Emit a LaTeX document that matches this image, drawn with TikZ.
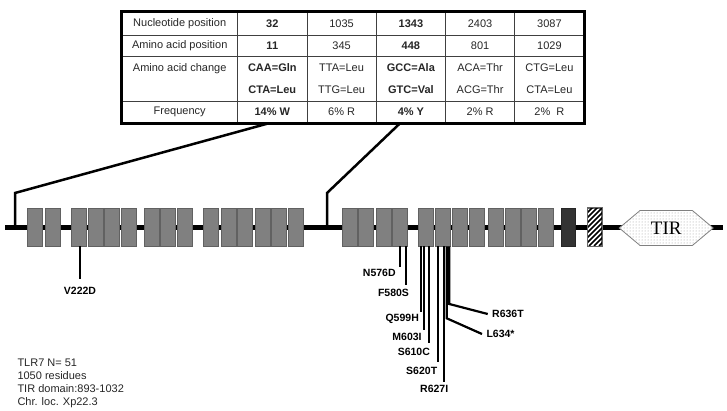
\documentclass[tikz,border=0pt]{standalone}
\usepackage{fontspec}
\setmainfont{Liberation Sans}
\newfontfamily\tirfont{Liberation Serif}
\usetikzlibrary{shapes.symbols,patterns,calc}

\begin{document}
\begin{tikzpicture}
[x=1pt, y=-1pt, line width=1pt,
lrr/.style={rectangle, draw=black!62, fill=black!50, line width=0.8pt, inner sep=0pt, minimum width=15pt, minimum height=38pt},
tmbox/.style={rectangle, draw=black!85, fill=black!80, line width=0.8pt, inner sep=0pt, minimum width=14pt, minimum height=38pt},
jxbox/.style={rectangle, draw=black!60, fill=white, line width=0.8pt, inner sep=0pt, minimum width=14pt, minimum height=38pt},
tirbox/.style={signal, signal to=west and east, signal pointer angle=80, draw=black!50, line width=0.8pt, preaction={fill=white}, pattern=dots, pattern color=black!40, inner sep=0pt, minimum width=94pt, minimum height=35pt, font=\tirfont\fontsize{19}{19}\selectfont},
cell/.style={rectangle, draw=black!75, line width=0.8pt, inner sep=0pt, minimum width=69.3pt, align=center, text=black!85, font=\fontsize{11}{21.7}\selectfont},
head/.style={cell, minimum width=116pt},
row0/.style={minimum height=23pt},
row1/.style={minimum height=21.7pt},
row2/.style={minimum height=44.3pt},
row3/.style={minimum height=22pt},
bracket/.style={line width=2.5pt},
mut/.style={line width=2.2pt},
mlabel/.style={font=\bfseries\fontsize{10.5}{12}\selectfont, inner sep=0pt},
info/.style={align=left, inner sep=0pt, text=black!85, font=\fontsize{11}{13}\selectfont}]

\useasboundingbox (0,0) rectangle (727,411);

% table
\node[head,row0] (t00) at (179.7,23.5) {Nucleotide position};
\node[cell,row0] (t01) at (272.3,23.5) {\bfseries 32};
\node[cell,row0] (t02) at (341.6,23.5) {1035};
\node[cell,row0] (t03) at (410.9,23.5) {\bfseries 1343};
\node[cell,row0] (t04) at (480.1,23.5) {2403};
\node[cell,row0] (t05) at (549.4,23.5) {3087};

\node[head,row1] (t10) at (179.7,45.85) {Amino acid position};
\node[cell,row1] (t11) at (272.3,45.85) {\bfseries 11};
\node[cell,row1] (t12) at (341.6,45.85) {345};
\node[cell,row1] (t13) at (410.9,45.85) {\bfseries 448};
\node[cell,row1] (t14) at (480.1,45.85) {801};
\node[cell,row1] (t15) at (549.4,45.85) {1029};

\node[head,row2] (t20) at (179.7,78.85) {Amino acid change\\~};
\node[cell,row2] (t21) at (272.3,78.85) {\bfseries CAA=Gln\\\bfseries CTA=Leu};
\node[cell,row2] (t22) at (341.6,78.85) {TTA=Leu\\TTG=Leu};
\node[cell,row2] (t23) at (410.9,78.85) {\bfseries GCC=Ala\\\bfseries GTC=Val};
\node[cell,row2] (t24) at (480.1,78.85) {ACA=Thr\\ACG=Thr};
\node[cell,row2] (t25) at (549.4,78.85) {CTG=Leu\\CTA=Leu};

\node[head,row3] (t30) at (179.7,112) {Frequency};
\node[cell,row3] (t31) at (272.3,112) {\bfseries 14\% W};
\node[cell,row3] (t32) at (341.6,112) {6\% R};
\node[cell,row3] (t33) at (410.9,112) {\bfseries 4\% Y};
\node[cell,row3] (t34) at (480.1,112) {2\% R};
\node[cell,row3] (t35) at (549.4,112) {2\%\ \ R};

\draw[line width=3pt] (t00.north west) rectangle (t35.south east);

% backbone
\coordinate (b0) at (5,228);
\coordinate (b1) at (723,228);
\draw[line width=5pt] (b0) -- (b1);

% brackets to the table
\coordinate (kl) at (15,193);
\coordinate (kr) at (327,193);
\draw[bracket] (kl |- b0) -- (kl) -- ([xshift=-4pt]t31.south);
\draw[bracket] (kr |- b0) -- (kr) -- ([xshift=-11pt]t33.south);

% repeats
\node[lrr] (l1) at (35.2,227) {};
\node[lrr] (l2) at (52.5,227) {};
\node[lrr] (l3) at (78.9,227) {};
\node[lrr] (l4) at (95.8,227) {};
\node[lrr] (l5) at (111.5,227) {};
\node[lrr] (l6) at (129.2,227) {};
\node[lrr] (l7) at (151.4,227) {};
\node[lrr] (l8) at (168.2,227) {};
\node[lrr] (l9) at (184.5,227) {};
\node[lrr] (l10) at (210.8,227) {};
\node[lrr] (l11) at (228.5,227) {};
\node[lrr] (l12) at (245.2,227) {};
\node[lrr] (l13) at (262.7,227) {};
\node[lrr] (l14) at (278.5,227) {};
\node[lrr] (l15) at (295.5,227) {};

\node[lrr] (r1) at (349.5,227) {};
\node[lrr] (r2) at (365.5,227) {};
\node[lrr] (r3) at (383.4,227) {};
\node[lrr] (r4) at (399.5,227) {};
\node[lrr] (r5) at (425.8,227) {};
\node[lrr] (r6) at (443,227) {};
\node[lrr] (r7) at (460,227) {};
\node[lrr] (r8) at (477.2,227) {};
\node[lrr] (r9) at (496.2,227) {};
\node[lrr] (r10) at (512.9,227) {};
\node[lrr] (r11) at (528.4,227) {};
\node[lrr] (r12) at (545.5,227) {};

\node[tmbox] (tm) at (568.4,227) {};
\node[jxbox] (jx) at (594.5,227) {};
\begin{scope}
\clip (jx.south west) rectangle (jx.north east);
\foreach \k in {0,...,10} \draw[line width=1.7pt] (549+\k*5,246) -- ++(40,-40);
\end{scope}
\draw[draw=black!60, line width=0.8pt] (jx.south west) rectangle (jx.north east);

\node[tirbox] (tir) at (666.2,228) {TIR};

% mutations
\coordinate (e222) at (80,279);
\coordinate (e576) at (400,266.7);
\coordinate (e580) at (406,285);
\coordinate (e599) at (420.7,311.7);
\coordinate (e603) at (424.3,330);
\coordinate (e610) at (429.3,343);
\coordinate (e620) at (438.3,361.7);
\coordinate (e627) at (444.3,381.7);
\coordinate (k634) at (446.7,318.3);
\coordinate (k636) at (449.3,304);

\node[mlabel] (m222) at (80,291) {V222D};
\node[mlabel] (m576) at (379.3,273.3) {N576D};
\node[mlabel] (m580) at (393.5,293.3) {F580S};
\node[mlabel] (m599) at (402.2,319.3) {Q599H};
\node[mlabel] (m603) at (407,336.7) {M603I};
\node[mlabel] (m610) at (413.8,351.7) {S610C};
\node[mlabel] (m620) at (421.7,371) {S620T};
\node[mlabel] (m627) at (434.2,389.3) {R627I};
\node[mlabel, anchor=west] (m634) at (486,334) {L634*};
\node[mlabel, anchor=west] (m636) at (491.7,314) {R636T};

\draw[mut] (e222 |- l3.south) -- (e222);
\draw[mut] (e576 |- r4.south) -- (e576);
\draw[mut] (e580 |- r4.south) -- (e580);
\draw[mut] (e599 |- r5.south) -- (e599);
\draw[mut] (e603 |- r5.south) -- (e603);
\draw[mut] (e610 |- r5.south) -- (e610);
\draw[mut] (e620 |- r6.south) -- (e620);
\draw[mut] (e627 |- r6.south) -- (e627);
\draw[mut] (k634 |- r6.south) -- (k634) -- ([xshift=-4pt]m634.west);
\draw[mut] (k636 |- r6.south) -- (k636) -- ([xshift=-4pt]m636.west);

% summary
\node[info, anchor=north west] (info) at (17,358) {TLR7 N= 51\\1050 residues\\TIR domain:893-1032\\Chr. loc. Xp22.3};

\end{tikzpicture}
\end{document}
